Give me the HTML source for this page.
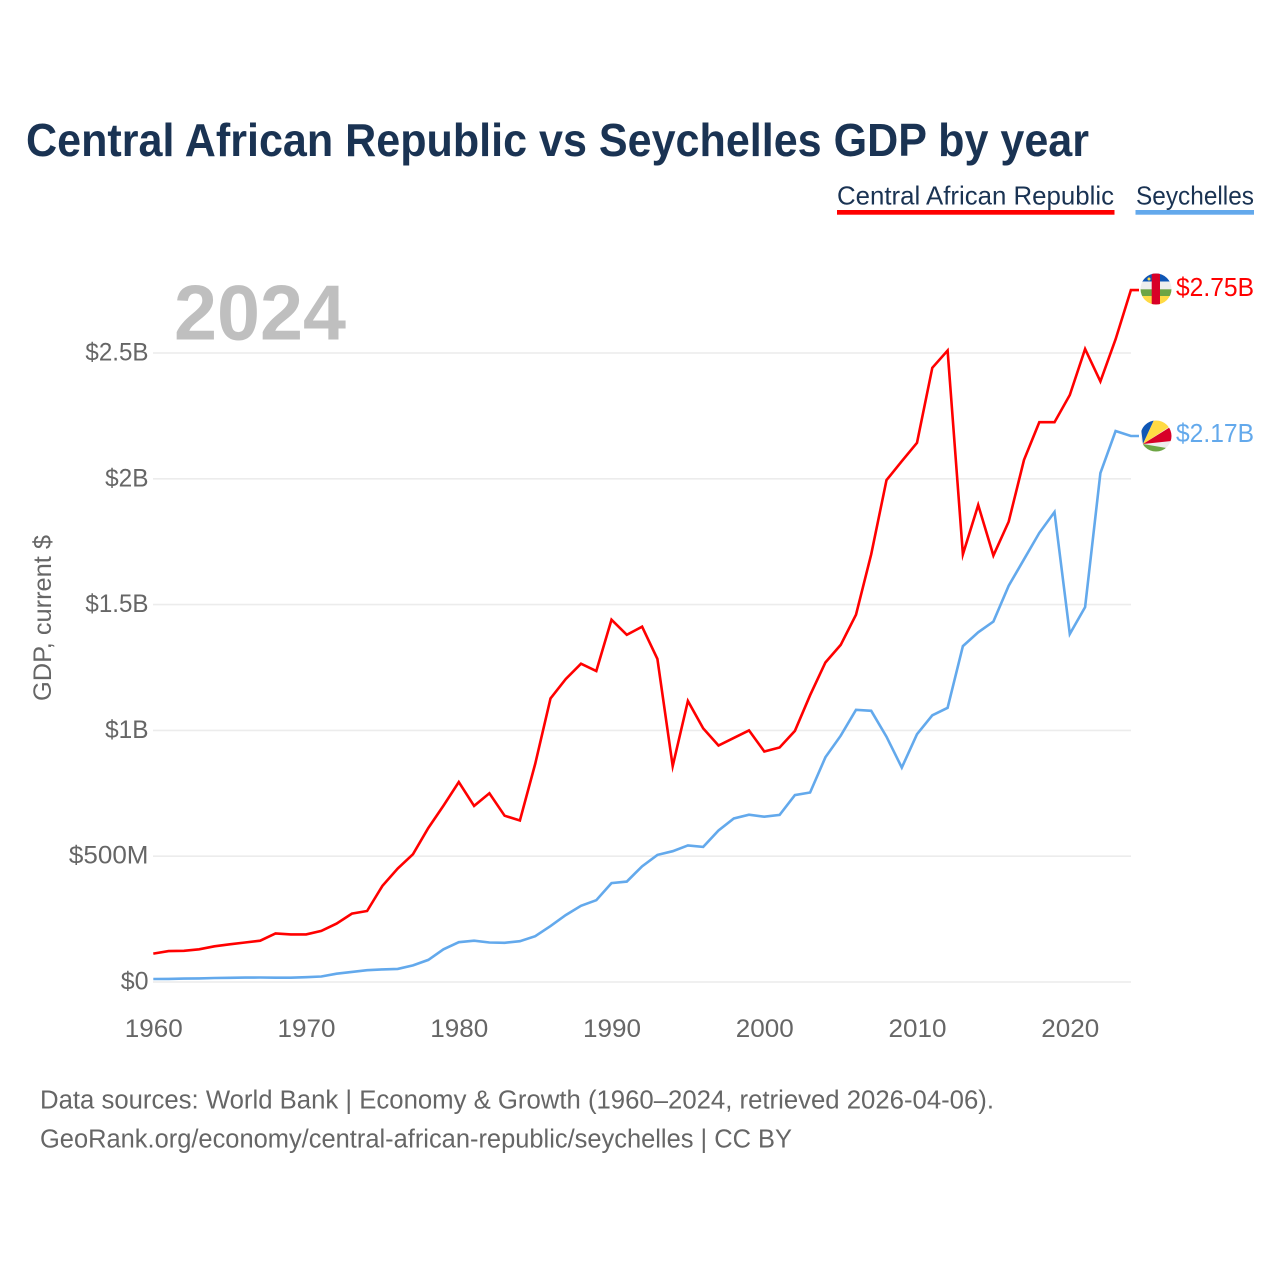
<!DOCTYPE html>
<html lang="en">
<head>
<meta charset="utf-8">
<title>Central African Republic vs Seychelles GDP by year</title>
<style>
html,body{margin:0;padding:0;background:#fff;width:1280px;height:1280px;overflow:hidden}
svg{display:block}
text{font-family:"Liberation Sans",sans-serif}
</style>
</head>
<body>
<svg id="chart" width="1280" height="1280" viewBox="0 0 1280 1280" xmlns="http://www.w3.org/2000/svg">
  <defs>
    <clipPath id="clip-caf"><circle cx="1156" cy="289" r="15.5"/></clipPath>
    <clipPath id="clip-syc"><circle cx="1156" cy="436" r="15.5"/></clipPath>
  </defs>
  <text x="26" y="156" font-size="46" font-weight="700" fill="#1a3353" textLength="1063" lengthAdjust="spacingAndGlyphs">Central African Republic vs Seychelles GDP by year</text>

  <g>
    <g>
      <text x="837" y="204.500" font-size="26" fill="#1a3353" textLength="277" lengthAdjust="spacingAndGlyphs">Central African Republic</text>
      <rect x="837" y="210" width="277.5" height="4.7" fill="#ff0000"/>
    </g>
    <g>
      <text x="1136" y="204.500" font-size="26" fill="#1a3353" textLength="118" lengthAdjust="spacingAndGlyphs">Seychelles</text>
      <rect x="1135.500" y="210" width="118.500" height="4.7" fill="#63a9ec"/>
    </g>
  </g>

  <g id="grid"></g>
  <text x="174" y="339.500" font-size="78" font-weight="700" fill="#bfbfbf" textLength="172" lengthAdjust="spacingAndGlyphs">2024</text>
  <g id="yticks"></g>
  <g id="xticks"></g>
  <text transform="translate(51,701) rotate(-90)" font-size="25" fill="#666666" textLength="166" lengthAdjust="spacingAndGlyphs">GDP, current $</text>
  <g id="series"></g>

  <g clip-path="url(#clip-caf)">
    <rect x="1140" y="273" width="32" height="9" fill="#0f56b5"/>
    <rect x="1140" y="281.500" width="32" height="8" fill="#eeeeee"/>
    <rect x="1140" y="289.300" width="32" height="7" fill="#6da544"/>
    <rect x="1140" y="296" width="32" height="10" fill="#ffda44"/>
    <rect x="1151.700" y="273" width="8.300" height="33" fill="#d80027"/>
    <circle cx="1149" cy="279" r="1.500" fill="#ffda44"/>
  </g>
  <g clip-path="url(#clip-syc)">
    <rect x="1140" y="420" width="32" height="33" fill="#eeeeee"/>
    <polygon points="1143,444 1140,420 1154,420" fill="#0f56b5"/>
    <polygon points="1143,444 1154,420 1168,420 1172,425" fill="#ffda44"/>
    <polygon points="1143,444 1172,426 1172,441" fill="#d80027"/>
    <polygon points="1143,444 1172,449 1172,453 1146,453" fill="#6da544"/>
  </g>
  <text x="1176" y="296" font-size="25.500" fill="#ff0000" textLength="78" lengthAdjust="spacingAndGlyphs">$2.75B</text>
  <text x="1176" y="442" font-size="25.500" fill="#63a9ec" textLength="78" lengthAdjust="spacingAndGlyphs">$2.17B</text>

  <text x="40" y="1108.500" font-size="25.500" fill="#666666" textLength="954" lengthAdjust="spacingAndGlyphs">Data sources: World Bank | Economy &amp; Growth (1960–2024, retrieved 2026-04-06).</text>
  <text x="40" y="1147.500" font-size="25.500" fill="#666666" textLength="752" lengthAdjust="spacingAndGlyphs">GeoRank.org/economy/central-african-republic/seychelles | CC BY</text>
</svg>
<script>
const startYear = 1960;
const centralAfricanRepublicGdpB = [0.113,0.123,0.124,0.13,0.142,0.15,0.157,0.164,0.193,0.189,0.189,0.203,0.232,0.272,0.282,0.382,0.451,0.508,0.612,0.701,0.795,0.70,0.75,0.661,0.642,0.867,1.127,1.204,1.265,1.236,1.44,1.38,1.412,1.284,0.858,1.117,1.008,0.94,0.97,1.0,0.916,0.932,0.998,1.14,1.27,1.34,1.46,1.7,1.995,2.07,2.143,2.441,2.51,1.70,1.896,1.695,1.83,2.075,2.225,2.225,2.333,2.516,2.387,2.555,2.75];
const seychellesGdpB = [0.012,0.0125,0.0135,0.0145,0.016,0.0165,0.0175,0.018,0.017,0.017,0.019,0.022,0.033,0.04,0.047,0.05,0.052,0.066,0.088,0.13,0.158,0.164,0.157,0.156,0.162,0.182,0.222,0.266,0.303,0.325,0.393,0.399,0.46,0.505,0.52,0.543,0.537,0.602,0.65,0.665,0.657,0.664,0.743,0.753,0.893,0.979,1.082,1.078,0.975,0.852,0.985,1.06,1.09,1.335,1.39,1.433,1.575,1.68,1.785,1.868,1.383,1.49,2.023,2.19,2.17];
const yTickValues = [0,0.5,1,1.5,2,2.5];
const yTickLabels = ["$0","$500M","$1B","$1.5B","$2B","$2.5B"];
const xTickYears = [1960,1970,1980,1990,2000,2010,2020];

const NS = "http://www.w3.org/2000/svg";
const xScale = year => 153.3 + (year - 1960) * 15.275;
const yScale = v => 982 - v * 251.6;
const charW = {"$":13.9,".":5.8,"B":15.6,"M":24};

function makeEl(tag, attrs, parent) {
  const el = document.createElementNS(NS, tag);
  for (const k in attrs) el.setAttribute(k, attrs[k]);
  parent.appendChild(el);
  return el;
}
function tickWidth(s) {
  let w = 0;
  for (const c of s) w += charW[c] || 13.9;
  return w;
}

const gridG = document.getElementById("grid");
const yG = document.getElementById("yticks");
yTickValues.forEach((v, i) => {
  const line = makeEl("line", {x1:153, x2:1131, y1:yScale(v), y2:yScale(v), stroke:"#ececec", "stroke-width":1.6}, gridG);
  
  
  const w = tickWidth(yTickLabels[i]);
  const t = makeEl("text", {x:148.5 - w, y:yScale(v) + 7.5, "font-size":25, fill:"#666666", textLength:w, lengthAdjust:"spacingAndGlyphs"}, yG);
  
  
  t.textContent = yTickLabels[i];
});

const xG = document.getElementById("xticks");
xTickYears.forEach(yr => {
  const t = makeEl("text", {x:xScale(yr) - 28.5, y:1037, "font-size":25, fill:"#666666", textLength:58, lengthAdjust:"spacingAndGlyphs"}, xG);
  
  
  t.textContent = yr;
});

const seriesG = document.getElementById("series");
function drawSeries(values, color, name) {
  const pts = values.map((v, i) => xScale(startYear + i).toFixed(1) + "," + yScale(v).toFixed(1));
  const lastY = yScale(values[values.length - 1]).toFixed(1);
  pts.push("1139," + lastY);
  const line = makeEl("polyline", {points:pts.join(" "), fill:"none", stroke:color, "stroke-width":2.6, "stroke-linejoin":"miter", "stroke-miterlimit":6}, seriesG);
  
  
}
drawSeries(seychellesGdpB, "#63a9ec", "line-seychelles");
drawSeries(centralAfricanRepublicGdpB, "#ff0000", "line-central-african-republic");
</script>
</body>
</html>
